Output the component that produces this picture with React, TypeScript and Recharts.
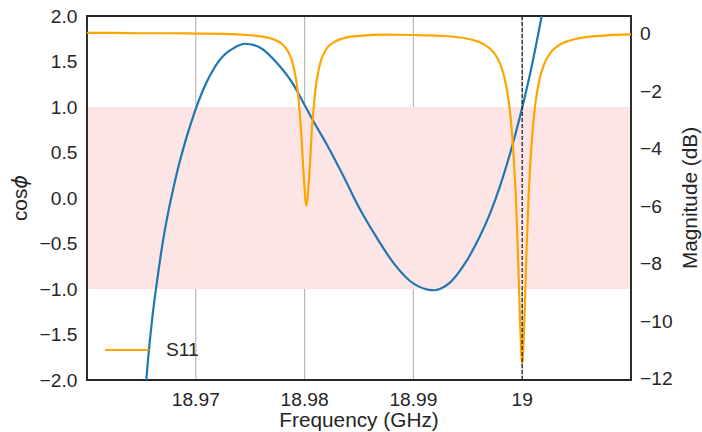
import React from 'react';
import {
  LineChart,
  Line,
  XAxis,
  YAxis,
  CartesianGrid,
  ReferenceArea,
  ReferenceLine,
  Legend,
} from 'recharts';

// ---------- data ----------
const freqTicks = [18.97, 18.98, 18.99, 19];
const cosTicks = [-2, -1.5, -1, -0.5, 0, 0.5, 1, 1.5, 2];
const dbTicks = [-12, -10, -8, -6, -4, -2, 0];

const cosFreq = [
  18.96519, 18.9655, 18.966, 18.9665, 18.967, 18.9675, 18.968, 18.9685, 18.969, 18.9695,
  18.97, 18.9705, 18.971, 18.9715, 18.972, 18.9725, 18.973, 18.9735, 18.974, 18.9745,
  18.975, 18.97593, 18.97744, 18.97896, 18.97988, 18.9808, 18.98203, 18.98356, 18.98509,
  18.98663, 18.98815, 18.98969, 18.99122, 18.99199, 18.99244, 18.99336, 18.99459, 18.99612,
  18.99704, 18.99796, 18.99888, 18.9998, 19.00072, 19.00179, 19.00255,
];
const cosValues = [
  -2.45, -1.93, -1.32, -0.86, -0.46, -0.136, 0.14, 0.39, 0.606, 0.8,
  0.98, 1.137, 1.275, 1.388, 1.484, 1.557, 1.611, 1.648, 1.678, 1.695,
  1.69, 1.652, 1.487, 1.249, 1.047, 0.846, 0.59, 0.242, -0.124,
  -0.436, -0.711, -0.912, -1.004, -1.014, -1.0, -0.93, -0.747, -0.418,
  -0.171, 0.131, 0.487, 0.897, 1.362, 2.0, 2.5,
];

const s11Freq = [
  18.96, 18.9625, 18.965, 18.9675, 18.97, 18.9725, 18.975, 18.976, 18.977, 18.9775,
  18.978, 18.9785, 18.979, 18.9794, 18.9797, 18.9799, 18.98017, 18.9804, 18.9807, 18.981,
  18.9814, 18.982, 18.9827, 18.9835, 18.985, 18.9875, 18.99, 18.9925, 18.995, 18.996,
  18.997, 18.9975, 18.998, 18.9984, 18.9988, 18.9991, 18.9994, 18.9996, 18.9998, 19.0,
  19.0002, 19.0004, 19.0006, 19.0009, 19.0012, 19.0016, 19.002, 19.0025, 19.003, 19.004,
  19.005, 19.0075, 19.01,
];
const s11Values = [
  0.01, 0.01, 0.0, 0.0, -0.01, -0.02, -0.07, -0.11, -0.19, -0.27,
  -0.4, -0.65, -1.18, -2.13, -3.53, -4.84, -6.0, -5.11, -3.19, -1.94,
  -1.09, -0.55, -0.31, -0.18, -0.09, -0.05, -0.06, -0.09, -0.19, -0.3,
  -0.52, -0.73, -1.09, -1.59, -2.48, -3.63, -5.58, -7.54, -9.97, -11.5,
  -9.97, -7.53, -5.57, -3.63, -2.47, -1.59, -1.09, -0.73, -0.52, -0.3,
  -0.19, -0.08, -0.04,
];

const bandLow = -1;
const bandHigh = 1;
const markerFreq = 19;
const freqDomain = [18.96, 19.01];
const cosDomain = [-2, 2];
const dbDomain = [-12.06, 0.6];

const cosData = cosFreq.map((f, i) => ({ f, v: cosValues[i] }));
const s11Data = s11Freq.map((f, i) => ({ f, db: s11Values[i] }));

// ---------- styling ----------
const FONT = '"Liberation Sans", Arial, Helvetica, sans-serif';
const TEXT = '#262626';
const TICK_SIZE = 19.2;
const LABEL_SIZE = 20.8;

const minus = (s: string) => s.replace('-', '\u2212');

function VTitle(props: any) {
  const { viewBox, side } = props;
  const vb = viewBox || (side === 'left'
    ? { x: 0, y: 16, width: 87, height: 364 }
    : { x: 631, y: 16, width: 71, height: 364 });
  const cy = vb.y + vb.height / 2;
  const bx = side === 'left' ? vb.x + 26.7 : vb.x + 65.5;
  return (
    <text
      x={bx}
      y={cy}
      transform={`rotate(-90 ${bx} ${cy})`}
      textAnchor="middle"
      fill={TEXT}
      fontSize={LABEL_SIZE}
      fontFamily={FONT}
    >
      {side === 'left' ? (
        <>
          <tspan>cos</tspan>
          <tspan fontStyle="italic" fontFamily='"DejaVu Sans", sans-serif'>ϕ</tspan>
        </>
      ) : (
        'Magnitude (dB)'
      )}
    </text>
  );
}

function LegendContent(props: any) {
  const payload = (props.payload || []).filter((p: any) => p.type !== 'none');
  return (
    <div style={{ fontFamily: FONT, fontSize: TICK_SIZE, color: TEXT, lineHeight: '22px' }}>
      {payload.map((p: any) => (
        <div key={p.value} style={{ display: 'flex', alignItems: 'center', height: 22 }}>
          <svg width={44} height={22} style={{ display: 'block' }}>
            <line x1={0} x2={44} y1={11} y2={11} stroke={p.color} strokeWidth={2.2} />
          </svg>
          <span style={{ marginLeft: 17, whiteSpace: 'nowrap' }}>{p.value}</span>
        </div>
      ))}
    </div>
  );
}

export default function App() {
  return (
    <div style={{ position: 'absolute', left: 0, top: 0, width: 702, height: 432, background: '#fff' }}>
      <LineChart width={702} height={432} margin={{ top: 16, right: 0, bottom: 0, left: 0 }}>
        <XAxis
          dataKey="f"
          type="number"
          domain={freqDomain}
          allowDataOverflow
          ticks={freqTicks}
          interval={0}
          tickFormatter={(v: number) => (v === 19 ? '19' : v.toFixed(2))}
          height={52}
          axisLine={false}
          tickLine={false}
          tickSize={0}
          tickMargin={12}
          tick={{ fill: TEXT, fontSize: TICK_SIZE, fontFamily: FONT }}
          label={{
            value: 'Frequency (GHz)',
            position: 'insideBottom',
            offset: 5,
            fill: TEXT,
            fontSize: LABEL_SIZE,
            fontFamily: FONT,
          }}
        />
        <YAxis
          yAxisId="left"
          orientation="left"
          type="number"
          domain={cosDomain}
          allowDataOverflow
          ticks={cosTicks}
          interval={0}
          tickFormatter={(v: number) => minus(v.toFixed(1))}
          width={87}
          axisLine={false}
          tickLine={false}
          tickSize={0}
          tickMargin={9.5}
          tick={{ fill: TEXT, fontSize: TICK_SIZE, fontFamily: FONT }}
          label={<VTitle side="left" />}
        />
        <YAxis
          yAxisId="right"
          orientation="right"
          type="number"
          domain={dbDomain}
          allowDataOverflow
          ticks={dbTicks}
          interval={0}
          tickFormatter={(v: number) => minus(String(v))}
          width={71}
          axisLine={false}
          tickLine={false}
          tickSize={0}
          tickMargin={9}
          tick={{ fill: TEXT, fontSize: TICK_SIZE, fontFamily: FONT }}
          label={<VTitle side="right" />}
        />
        <ReferenceArea
          yAxisId="left"
          y1={bandLow}
          y2={bandHigh}
          fill="#fde5e5"
          fillOpacity={1}
          stroke="none"
        />
        <CartesianGrid
          yAxisId="left"
          horizontal={false}
          vertical
          stroke="#b8b8b8"
          strokeWidth={1.2}
        />
        <Line
          yAxisId="left"
          data={cosData}
          dataKey="v"
          type="monotone"
          stroke="#1f77b4"
          strokeWidth={2.2}
          dot={false}
          activeDot={false}
          legendType="none"
          isAnimationActive={false}
        />
        <Line
          yAxisId="right"
          data={s11Data}
          dataKey="db"
          name="S11"
          type="monotone"
          stroke="#ffa500"
          strokeWidth={2.2}
          dot={false}
          activeDot={false}
          isAnimationActive={false}
        />
        <ReferenceLine
          yAxisId="left"
          x={markerFreq}
          stroke="#262626"
          strokeWidth={1.3}
          strokeDasharray="4 2"
        />
        <ReferenceArea
          yAxisId="left"
          x1={freqDomain[0]}
          x2={freqDomain[1]}
          y1={cosDomain[0]}
          y2={cosDomain[1]}
          fill="none"
          stroke="#262626"
          strokeWidth={1.9}
        />
        <Legend
          layout="vertical"
          align="center"
          verticalAlign="middle"
          content={<LegendContent />}
          wrapperStyle={{ left: 105, top: 339, width: 'auto', margin: 0, padding: 0 }}
        />
      </LineChart>
    </div>
  );
}
